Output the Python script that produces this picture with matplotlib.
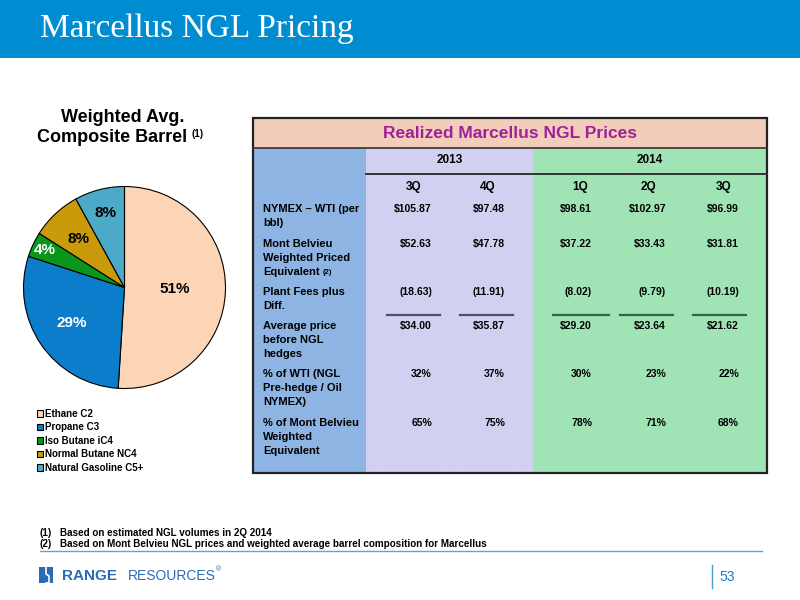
import numpy as np
import matplotlib
matplotlib.use("Agg")
import matplotlib.pyplot as plt
from matplotlib.patches import Rectangle

# pie data
pie_labels = ['Ethane C2', 'Propane C3', 'Iso Butane iC4', 'Normal Butane NC4', 'Natural Gasoline C5+']
pie_pct = [51, 29, 4, 8, 8]
pie_colors = ['#FBD5B5', '#0B7DCB', '#0A961A', '#C99B0B', '#4BAAC8']

# table data
years = ['2013', '2014']
quarters = ['3Q', '4Q', '1Q', '2Q', '3Q']
row_labels = [['NYMEX \u2013 WTI (per', 'bbl)'],
              ['Mont Belvieu', 'Weighted Priced', 'Equivalent'],
              ['Plant Fees plus', 'Diff.'],
              ['Average price', 'before NGL', 'hedges'],
              ['% of WTI (NGL', 'Pre-hedge / Oil', 'NYMEX)'],
              ['% of Mont Belvieu', 'Weighted', 'Equivalent']]
wti = [105.87, 97.48, 98.61, 102.97, 96.99]
mont_belvieu = [52.63, 47.78, 37.22, 33.43, 31.81]
plant_fees = [-18.63, -11.91, -8.02, -9.79, -10.19]
avg_price = [34.00, 35.87, 29.20, 23.64, 21.62]
pct_wti = [32, 37, 30, 23, 22]
pct_mont = [65, 75, 78, 71, 68]

footnotes = ['Based on estimated NGL volumes in 2Q 2014',
             'Based on Mont Belvieu NGL prices and weighted average barrel composition for Marcellus']


def dollars(v):
    return '$%.2f' % v


def paren(v):
    return '(%.2f)' % abs(v) if v < 0 else '%.2f' % v


def pct(v):
    return '%d%%' % v


rows = [[dollars(v) for v in wti],
        [dollars(v) for v in mont_belvieu],
        [paren(v) for v in plant_fees],
        [dollars(v) for v in avg_price],
        [pct(v) for v in pct_wti],
        [pct(v) for v in pct_mont]]

plt.rcParams['font.family'] = ['Liberation Sans', 'DejaVu Sans']

fig = plt.figure(figsize=(8, 6), dpi=100)
renderer = fig.canvas.get_renderer()
bg = fig.add_axes([0, 0, 1, 1])
bg.set_xlim(0, 800)
bg.set_ylim(600, 0)
bg.axis('off')


def right_edge(txt):
    # right end of a text, in pixel x
    return txt.get_window_extent(renderer=renderer).x1


# header bar
bg.add_patch(Rectangle((0, 0), 800, 58, color='#008CD1', lw=0))
bg.text(40, 37, 'Marcellus NGL Pricing', color='white', fontsize=24,
        family='Liberation Serif', va='baseline')

# pie title
bg.text(123, 117, 'Weighted Avg.', fontsize=13, weight='bold', ha='center', va='center')
t = bg.text(37, 137, 'Composite Barrel', fontsize=13, weight='bold', ha='left', va='center')
bg.text(right_edge(t) + 4, 134, '(1)', fontsize=7, weight='bold', ha='left', va='center')

# table background blocks
tx0, tx1, ty0, ty1 = 253, 767, 118, 473
bg.add_patch(Rectangle((tx0, ty0), tx1 - tx0, 30, color='#F2CDB9', lw=0))
bg.add_patch(Rectangle((tx0, 148), 366 - tx0, ty1 - 148, color='#8DB4E2', lw=0))
bg.add_patch(Rectangle((366, 148), 533 - 366, ty1 - 148, color='#D2D0F0', lw=0))
bg.add_patch(Rectangle((533, 148), tx1 - 533, ty1 - 148, color='#A0E4B6', lw=0))
for x in [383, 443, 457, 516, 674, 693, 747]:
    bg.plot([x, x], [174, ty1], color='white', lw=0.6, alpha=0.08)
bg.plot([tx0, tx1], [148, 148], color='#333333', lw=1.2)
bg.plot([366, tx1], [174, 174], color='#333333', lw=1.4)
bg.add_patch(Rectangle((tx0, ty0), tx1 - tx0, ty1 - ty0, fill=False,
                       edgecolor='#222222', lw=1.6))

bg.text((tx0 + tx1) / 2, 134, 'Realized Marcellus NGL Prices', color='#A0209A',
        fontsize=12.5, weight='bold', ha='center', va='center')

year_x = [450, 650]
for x, y in zip(year_x, years):
    bg.text(x, 160, y, fontsize=8.5, weight='bold', ha='center', va='center')

quarter_x = [414, 488, 580, 648, 723.5]
for x, q in zip(quarter_x, quarters):
    bg.text(x, 187, q, fontsize=8.5, weight='bold', ha='center', va='center')

value_x = [432, 505, 592, 666, 739]
row_y = [209, 244, 292, 326, 374, 423]
line_h = 14
for y, lab, vals in zip(row_y, row_labels, rows):
    for i, line in enumerate(lab):
        t = bg.text(263, y + i * line_h, line, fontsize=8, weight='bold', ha='left', va='center')
        if y == row_y[1] and i == 2:
            bg.text(right_edge(t) + 3, y + i * line_h + 1, '(2)', fontsize=5.5,
                    weight='bold', ha='left', va='center')
    for x, v in zip(value_x, vals):
        bg.text(x, y, v, fontsize=7.5, weight='bold', ha='right', va='center')

# subtotal rules
seg = [(387, 440), (460, 513), (553, 609), (620, 673), (693, 746)]
for k, (a, b) in enumerate(seg):
    bg.plot([a, b], [315, 315], color='#4F5070' if k < 2 else '#2D6A40', lw=1.6)

# pie
pax = fig.add_axes([(124.5 - 101) / 800, 1 - (287.5 + 101) / 600, 202 / 800, 202 / 600])
wedges, _ = pax.pie(pie_pct, colors=pie_colors, startangle=90, counterclock=False,
                    wedgeprops=dict(edgecolor='black', linewidth=0.8))
pax.set_xlim(-1, 1)
pax.set_ylim(-1, 1)
for w in wedges:
    w.set_clip_on(False)

label_r = [0.5, 0.63, 0.87, 0.66, 0.76]
label_c = ['black', 'white', 'white', 'black', 'black']
for w, p, r, c in zip(wedges, pie_pct, label_r, label_c):
    a = np.deg2rad((w.theta1 + w.theta2) / 2)
    pax.text(r * np.cos(a), r * np.sin(a), '%d%%' % p, color=c, fontsize=11,
             weight='bold', ha='center', va='center')

leg = pax.legend(wedges, pie_labels, loc='upper left', bbox_to_anchor=(32 / 800, 1 - 404 / 600),
                 bbox_transform=fig.transFigure, frameon=False, borderpad=0,
                 handlelength=0.6, handleheight=0.6, handletextpad=0.2, labelspacing=0.36,
                 prop=dict(size=7.0, weight='bold'))

# footnotes
for i, note in enumerate(footnotes):
    bg.text(40, 533 + i * 11, '(%d)' % (i + 1), fontsize=7.1, weight='bold', va='center')
    bg.text(60, 533 + i * 11, note, fontsize=7.1, weight='bold', va='center')
bg.plot([40, 762], [551, 551], color='#5BA6D6', lw=1)

# footer logo and page number
bg.add_patch(Rectangle((39, 567), 14, 16, color='#2A6BB5', lw=0))
bg.plot([46, 46, 49, 49, 46], [567, 574, 576, 583, 583], color='white', lw=1.2)
bg.text(62, 576, 'RANGE', color='#2A6BB5', fontsize=11, weight='bold', va='center')
bg.text(128, 576, 'RESOURCES', color='#2A6BB5', fontsize=10, va='center')
bg.text(216, 570, '\u00ae', color='#2A6BB5', fontsize=5, va='center')
bg.plot([712, 712], [565, 588], color='#4A9ED6', lw=1)
bg.text(719, 577, '53', color='#1E7BC0', fontsize=10, va='center')

fig.savefig('out.png', dpi=100)
